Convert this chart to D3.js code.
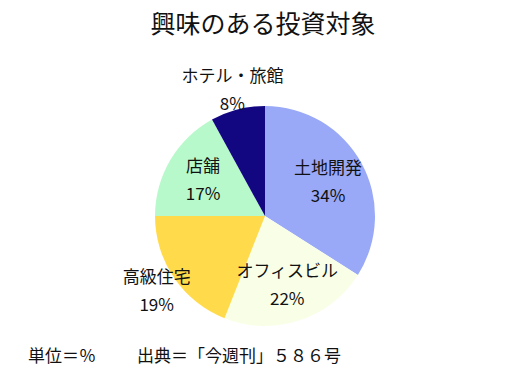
<!DOCTYPE html>
<html><head><meta charset="utf-8">
<script src="https://cdn.jsdelivr.net/npm/d3@7"></script>
<style>body{margin:0;background:#fff}svg{display:block}text{font-family:"Noto Sans CJK JP","Noto Sans",sans-serif;fill:#111}</style>
</head><body><div id="chart"></div>
<script>
const categories = ["土地開発","オフィスビル","高級住宅","店舗","ホテル・旅館"];
const values = [34,22,19,17,8];
const colors = ["#99a9f8","#f9ffe7","#ffdb4b","#b8f9cb","#120780"];
const outsideLabels = ["高級住宅","ホテル・旅館"];
const title = "興味のある投資対象";
const unitNote = "単位＝％";
const sourceNote = "出典＝「今週刊」５８６号";

const W=524,H=381, cx=265, cy=216, R=110;
const svg=d3.select("#chart").append("svg").attr("width",W).attr("height",H);
svg.append("text").attr("x",263).attr("y",33).attr("text-anchor","middle").attr("font-size",25).text(title);

const pie=d3.pie().sort(null).value(d=>d)(values);
const arc=d3.arc().innerRadius(0).outerRadius(R);
const g=svg.append("g").attr("transform",`translate(${cx},${cy})`);
g.selectAll("path").data(pie).join("path").attr("d",arc).attr("fill",(d,i)=>colors[i]);

const inArc=d3.arc().innerRadius(72).outerRadius(72);
const outArc=d3.arc().innerRadius(131).outerRadius(131);
const lab=g.selectAll("g.lab").data(pie).join("g").attr("class","lab")
  .attr("transform",(d,i)=>{const c=(outsideLabels.includes(categories[i])?outArc:inArc).centroid(d);return `translate(${c[0]},${c[1]})`;});
lab.append("text").attr("text-anchor","middle").attr("y",-7).attr("font-size",17).text((d,i)=>categories[i]);
lab.append("text").attr("text-anchor","middle").attr("y",21).attr("font-size",17).text((d,i)=>values[i]+"%");

svg.append("text").attr("x",28).attr("y",362).attr("font-size",17).text(unitNote);
svg.append("text").attr("x",137).attr("y",362).attr("font-size",17).text(sourceNote);
</script></body></html>
